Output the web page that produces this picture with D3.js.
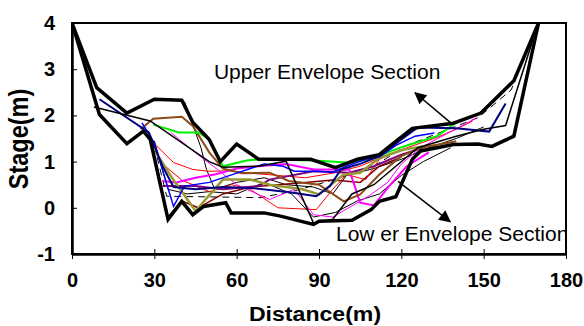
<!DOCTYPE html>
<html>
<head>
<meta charset="utf-8">
<script src="https://cdn.jsdelivr.net/npm/d3@7"></script>
<style>
  body { margin: 0; background: #fff; }
  svg { display: block; font-family: Arial, "Liberation Sans", sans-serif; }
  .tick-label { font-weight: bold; font-size: 20px; }
  .axis-title { font-weight: bold; }
  .note { font-size: 21px; }
</style>
</head>
<body>
<div class="grafico"></div>
<script>
/* ticks */
const xTicks = [0, 30, 60, 90, 120, 150, 180];
const yTicks = [-1, 0, 1, 2, 3, 4];

/* sections: [distance, stage] */
const upperEnvelope = [[0,4],[9,2.6],[20,2.05],[30,2.35],[40,2.33],[44,1.85],[50,1.48],[54,1.0],[60,1.38],[68,1.05],[87,1.05],[96,0.87],[104,1.05],[112,1.15],[115,1.3],[124,1.72],[139,1.83],[149,2.05],[161,2.75],[170,4]];
const lowerEnvelope = [[0,4],[10,2.02],[20,1.39],[26,1.66],[28.5,1.48],[35,-0.25],[40,0.14],[44,-0.15],[48,0.03],[56,0.11],[58,-0.11],[70,-0.11],[76,-0.18],[88,-0.36],[90,-0.29],[102,-0.27],[109,-0.04],[112,0.14],[118,0.24],[124,1.05],[127,1.23],[139,1.37],[148,1.38],[153,1.33],[161,1.55],[170,4]];
const secBlack = [[8,2.18],[28.5,1.88],[50,1.0],[55,0.88],[68,0.9],[78,1.01],[88,-0.33],[95,-0.25],[102,0.3],[110,0.5],[118,0.9],[126,1.3],[140,1.55],[150,1.7],[158,1.78],[168,3.65]];
const secNavy = [[10,2.35],[28,1.63],[33,0.9],[37,0.45],[45,0.4],[55,0.45],[65,0.43],[80,0.33],[89,0.25],[94,0.47],[98,0.83],[105,0.95],[112,1.12],[120,1.48],[126,1.74],[140,1.72],[152,1.65],[158,2.26]];
const secBlue = [[25.5,1.84],[30,1.4],[37,0.03],[41,0.47],[50,0.55],[60,0.75],[70,0.95],[77,0.9],[81,0.79],[89,0.79],[95,0.77],[100,0.9],[107,1.05],[112,1.1],[118,1.35],[125,1.55],[132,1.62]];
const secGreen = [[29.6,1.8],[39,1.63],[46,1.63],[50,1.48],[55,0.9],[64,1.03],[70,1.05],[90,1.02],[100,0.98],[109,1.05],[115,1.2],[122,1.35],[133,1.55],[140,1.84]];
const secBrown = [[25,1.7],[29.6,1.93],[40,1.97],[44,1.77],[50,1.2],[55,0.85],[62,0.75],[72,0.76],[79,0.58],[90,0.5],[99,0.14],[105,0.29],[112,0.72],[120,1.12],[127,1.3],[140,1.44]];
const secRed = [[29.6,1.41],[37,0.98],[44,0.83],[50,0.79],[57,0.8],[65,0.75],[75,0.7],[85,0.65],[95,0.75],[105,0.9],[112,1.08],[122,1.3],[132,1.5],[140,1.7],[146,1.88]];
const secRed2 = [[33,0.95],[40,0.6],[50,0.35],[58,0.5],[65,0.4],[75,0.0],[89,-0.04],[95,0.4],[100,0.72],[107,0.61],[112,1.05],[120,1.25]];
const secDarkRed = [[28.5,1.55],[35,-0.2],[40,0.15],[46,0.0],[55,0.3],[65,0.45],[75,0.5],[85,0.55],[95,0.6],[105,0.55],[112,0.9],[120,1.1]];
const secMagenta = [[33,0.58],[38,0.55],[45,0.65],[52,0.72],[60,0.85],[68,0.9],[78,0.95],[88,0.83],[101,0.83],[105,0.11],[110,0.05],[116,0.5],[122,0.9],[130,1.2]];
const secMagenta2 = [[36,1.63],[45,1.19],[53,0.83],[60,0.5],[72,0.18],[81,0.4],[88,-0.15],[95,-0.2],[108,0.25],[115,0.55],[120,0.95],[127,1.3],[147.5,1.95]];
const secOlive = [[30,1.25],[37,0.6],[45,-0.07],[55,0.61],[65,0.61],[72,0.5],[84,0.4],[90,0.29],[99,0.72],[105,0.76],[112,1.08],[121,1.26],[130,1.35]];
const secPurple = [[33,0.47],[45,0.47],[55,0.4],[68,0.47],[72,0.61],[88,0.79],[101,0.76],[110,0.9],[120,1.15],[128,1.3]];
const secDashed = [[31,1.1],[34.5,0.25],[68.5,0.22],[80,0.35],[95,0.6],[110,0.9],[122,1.35],[135,1.65],[148,1.95],[160,2.55],[170,4]];
const secThin1 = [[41,2.3],[47,1.3],[49,0.83],[52,0.4],[60,0.55],[70,0.65],[78,0.5],[88,0.45],[95,0.3],[100,0.7],[110,0.85],[120,1.05],[130,1.3],[140,1.5],[150,1.75]];
const secThin2 = [[30,1.45],[35,0.4],[42,0.3],[50,0.35],[60,0.3],[70,0.55],[80,0.3],[88,-0.2],[96,-0.1],[104,0.15],[112,0.3],[120,0.7],[128,1.0],[138,1.3]];

/* notes: [distance, stage] */
const upperNote = { text: 'Upper Envelope Section', at: [51.7, 2.79], from: [137.8, 1.85], to: [125, 2.49] };
const lowerNote = { text: 'Low er Envelope Section', at: [96.2, -0.72], from: [118.8, 0.57], to: [137.8, -0.3] };

/* styles for each section */
const series = [
  { d: secThin2, color: '#000', w: 1 },
  { d: secThin1, color: '#000', w: 1 },
  { d: secDashed, color: '#000', w: 1, dash: '7,5' },
  { d: secDarkRed, color: '#800000', w: 1.5 },
  { d: secRed2, color: '#ff0000', w: 1 },
  { d: secRed, color: '#ff0000', w: 1 },
  { d: secPurple, color: '#800080', w: 2 },
  { d: secMagenta2, color: '#ff00ff', w: 1 },
  { d: secMagenta, color: '#ff00ff', w: 2 },
  { d: secOlive, color: '#999933', w: 2.5 },
  { d: secBrown, color: '#8b4a16', w: 2 },
  { d: secGreen, color: '#00ee00', w: 2 },
  { d: secBlue, color: '#0000ff', w: 1.5 },
  { d: secNavy, color: '#000080', w: 2 },
  { d: secBlack, color: '#000', w: 1.5 },
  { d: lowerEnvelope, color: '#000', w: 3.5 },
  { d: upperEnvelope, color: '#000', w: 3.5 }
];

const w = 584;
const h = 326;
const pLeft = 72, pRight = 566, pTop = 23, pBottom = 254;

const x = d3.scaleLinear().domain([0, 180]).range([pLeft, pRight]);
const y = d3.scaleLinear().domain([-1, 4]).range([pBottom, pTop]);

const svg = d3.select('.grafico')
  .append('svg')
  .attr('width', w)
  .attr('height', h);

const defs = svg.append('defs');

defs.append('clipPath')
  .attr('id', 'plot')
  .append('rect')
  .attr('x', pLeft).attr('y', pTop - 2)
  .attr('width', pRight - pLeft).attr('height', pBottom - pTop + 2);

defs.append('marker')
  .attr('id', 'head')
  .attr('viewBox', '0 0 10 10')
  .attr('refX', 9).attr('refY', 5)
  .attr('markerWidth', 14).attr('markerHeight', 12)
  .attr('markerUnits', 'userSpaceOnUse')
  .attr('orient', 'auto')
  .append('path')
  .attr('d', 'M0,0 L10,5 L0,10 Z')
  .attr('fill', '#000');

/* lines */
const line = d3.line().x(d => x(d[0])).y(d => y(d[1]));

const plot = svg.append('g').attr('clip-path', 'url(#plot)');

plot.selectAll('path.sec')
  .data(series)
  .join('path')
  .attr('class', 'sec')
  .attr('d', s => line(s.d))
  .attr('fill', 'none')
  .attr('stroke', s => s.color)
  .attr('stroke-width', s => s.w)
  .attr('stroke-dasharray', s => s.dash || null)
  .attr('stroke-linejoin', 'miter');

/* frame */
svg.append('rect')
  .attr('x', pLeft).attr('y', pTop)
  .attr('width', pRight - pLeft).attr('height', pBottom - pTop)
  .attr('fill', 'none')
  .attr('stroke', '#000')
  .attr('stroke-width', 2);

/* axes */
const xAxis = d3.axisBottom(x).tickValues(xTicks).tickSizeInner(5).tickSizeOuter(0).tickPadding(14);
const yAxis = d3.axisLeft(y).tickValues(yTicks).tickFormat(d => String(d))
  .tickSizeInner(6).tickSizeOuter(0).tickPadding(11);

const gx = svg.append('g').attr('transform', `translate(0,${pBottom})`).call(xAxis);
const gy = svg.append('g').attr('transform', `translate(${pLeft},0)`).call(yAxis);

gx.select('.domain').attr('stroke-width', 2.5);
gy.select('.domain').attr('stroke-width', 2.5);
gx.selectAll('.tick line').attr('y1', -5).attr('stroke-width', 1);
gy.selectAll('.tick line').attr('x2', 5).attr('stroke-width', 1);
[gx, gy].forEach(g => g.selectAll('.tick text')
  .attr('class', 'tick-label')
  .attr('fill', '#000'));
gx.attr('font-family', null).attr('font-size', null);
gy.attr('font-family', null).attr('font-size', null);

/* axis titles (the picture is a little wider than tall) */
svg.append('text')
  .attr('class', 'axis-title')
  .attr('font-size', 21)
  .attr('transform', 'translate(315,321) scale(1.1,1)')
  .attr('text-anchor', 'middle')
  .text('Distance(m)');

svg.append('text')
  .attr('class', 'axis-title')
  .attr('font-size', 23.5)
  .attr('transform', 'translate(28,139) scale(1.17,1) rotate(-90)')
  .attr('text-anchor', 'middle')
  .text('Stage(m)');

/* notes */
[upperNote, lowerNote].forEach(n => {
  plot.append('text')
    .attr('class', 'note')
    .attr('x', x(n.at[0]))
    .attr('y', y(n.at[1]))
    .text(n.text);
  svg.append('line')
    .attr('x1', x(n.from[0])).attr('y1', y(n.from[1]))
    .attr('x2', x(n.to[0])).attr('y2', y(n.to[1]))
    .attr('stroke', '#000')
    .attr('stroke-width', 1.5)
    .attr('marker-end', 'url(#head)');
});
</script>
</body>
</html>
